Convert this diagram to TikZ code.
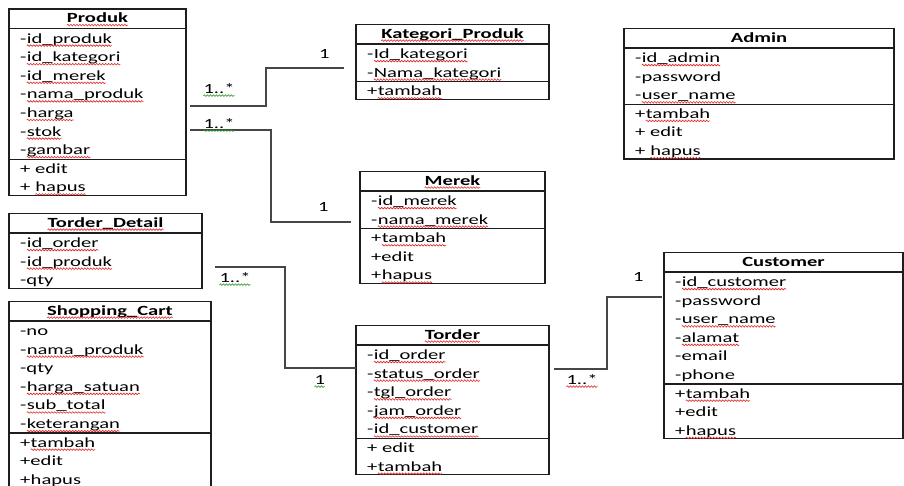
\documentclass[tikz,border=0pt]{standalone}
\usepackage{fontspec}
\setmainfont{Carlito}[FakeStretch=1.47]
\usetikzlibrary{calc,decorations.pathmorphing}
\definecolor{sqred}{RGB}{225,40,40}
\definecolor{sqgreen}{RGB}{40,150,40}
\definecolor{linegray}{RGB}{70,70,70}
\definecolor{boxcol}{RGB}{30,30,30}
\tikzset{
  wavy/.style={line width=0.6pt, decorate, decoration={snake, amplitude=0.8pt, segment length=3pt}},
  clsbox/.style={draw=boxcol, line width=1.2pt, inner sep=0pt, outer sep=0pt},
  clsline/.style={draw=boxcol, line width=1.2pt},
  clstitle/.style={anchor=base, inner sep=0pt, font=\dfont\bfseries},
  clsrow/.style={anchor=base west, inner sep=0pt, font=\dfont},
  mult/.style={anchor=base west, inner sep=0pt, font=\dfont},
  conn/.style={draw=linegray, line width=1.4pt}
}
\newcommand\sqany[2]{\tikz[baseline=(w.base)]{\node[inner sep=0pt, outer sep=0pt, anchor=base west] (w) at (0,0) {#2};
  \draw[#1, wavy] ([yshift=-2.6pt]w.base west) -- ([yshift=-2.6pt]w.base east);}}
\newcommand\sqr[1]{\sqany{sqred}{#1}}
\newcommand\sqg[1]{\sqany{sqgreen}{#1}}
\newcommand\dfont{\fontsize{14}{16}\selectfont}
% #1 name, #2 x, #3 top, #4 width, #5 title, #6 n attrs, #7 n methods, #8 attrs, #9 methods
\newcommand\umlclass[9]{%
  \pgfmathsetmacro\hb{#3+19.5}%
  \pgfmathsetmacro\hh{(#6+#7)*18.6+19.5-0.6}%
  \node[clsbox, minimum width=#4pt, minimum height=\hh pt, anchor=north west] (#1) at (#2,#3) {};
  \draw[clsline] ([yshift=-19.5pt]#1.north west) -- ([yshift=-19.5pt]#1.north east);
  \node[clstitle] (#1-t) at ({#2+#4/2},{#3+13.5}) {#5};
  \foreach \rowtxt [count=\rowi] in {#8} {\node[clsrow] (#1-a\rowi) at ({#2+11},{\hb+14.5+(\rowi-1)*18.6}) {\rowtxt};}
  \ifnum#7>0
    \pgfmathsetmacro\dv{19.5+#6*18.6+0.4}%
    \draw[clsline] ([yshift=-\dv pt]#1.north west) -- ([yshift=-\dv pt]#1.north east);
    \foreach \rowtxt [count=\rowi] in {#9} {\node[clsrow] (#1-m\rowi) at ({#2+11},{\hb+14.5+(#6+\rowi-1)*18.6}) {\rowtxt};}
  \fi
}
\begin{document}
\begin{tikzpicture}[x=1pt, y=-1pt]
\useasboundingbox (0,0) rectangle (904,485);
\clip (0,0) rectangle (904,485);
\fill[white] (0,0) rectangle (904,485);

\umlclass{produk}{9}{9}{177}{\sqr{Produk}}{7}{2}
  {-\sqr{id\_produk}, -\sqr{id\_kategori}, -\sqr{id\_merek}, -\sqr{nama\_produk}, -\sqr{harga}, -\sqr{stok}, -\sqr{gambar}}
  {+ edit, + \sqr{hapus}}
\umlclass{kategori}{356}{24.5}{193}{\sqr{Kategori\_Produk}}{2}{1}
  {-\sqr{Id\_kategori}, -\sqr{Nama\_kategori}}
  {+\sqr{tambah}}
\umlclass{admin}{624}{28.5}{270}{Admin}{3}{3}
  {-\sqr{id\_admin}, -password, -\sqr{user\_name}}
  {+\sqr{tambah}, + edit, + \sqr{hapus}}
\umlclass{merek}{360}{171.5}{185}{\sqr{Merek}}{2}{3}
  {-\sqr{id\_merek}, -\sqr{nama\_merek}}
  {+\sqr{tambah}, +edit, +\sqr{hapus}}
\umlclass{torderdetail}{9}{213.5}{193}{\sqr{Torder\_Detail}}{3}{0}
  {-\sqr{id\_order}, -\sqr{id\_produk}, -qty}
  {}
\umlclass{cart}{9}{301.5}{202}{\sqr{Shopping\_Cart}}{6}{3}
  {-no, -\sqr{nama\_produk}, -qty, -\sqr{harga\_satuan}, -\sqr{sub\_total}, -\sqr{keterangan}}
  {+\sqr{tambah}, +edit, +\sqr{hapus}}
\umlclass{torder}{356}{325.5}{193}{\sqr{Torder}}{5}{2}
  {-\sqr{id\_order}, -\sqr{status\_order}, -\sqr{tgl\_order}, -\sqr{jam\_order}, -\sqr{id\_customer}}
  {+ edit, +\sqr{tambah}}
\umlclass{customer}{664}{252.5}{239}{Customer}{6}{3}
  {-\sqr{id\_customer}, -password, -\sqr{user\_name}, -\sqr{alamat}, -email, -phone}
  {+\sqr{tambah}, +edit, +\sqr{hapus}}

% connector end points
\coordinate (c1s) at (190,106);
\coordinate (c1k) at (266,68);
\coordinate (c1e) at (344,68);
\coordinate (c2s) at (190,130);
\coordinate (c2k) at (271,222);
\coordinate (c2e) at (351,222);
\coordinate (c3s) at (215,267);
\coordinate (c3k) at (285,368);
\coordinate (c4s) at (554,369);
\coordinate (c4k) at (607,297);
\coordinate (c4e) at (662,297);

\draw[conn] (c1s) -| (c1k) -- (c1e);
\draw[conn] (c2s) -| (c2k) -- (c2e);
\draw[conn] (c3s) -| (c3k) -- (c3k -| torder.west);
\draw[conn] (c4s) -| (c4k) -- (c4e);

\node[mult] (l1) at (203,93) {\sqg{1..*}};
\node[mult] (l2) at (319,58) {1};
\node[mult] (l3) at (203,128) {\sqg{1..*}};
\node[mult] (l4) at (318,211) {1};
\node[mult] (l5) at (219,282) {\sqg{1..*}};
\node[mult] (l6) at (314,384) {\sqg{1}};
\node[mult] (l7) at (633,281) {1};
\node[mult] (l8) at (566,384) {\sqr{1..*}};
\end{tikzpicture}
\end{document}
